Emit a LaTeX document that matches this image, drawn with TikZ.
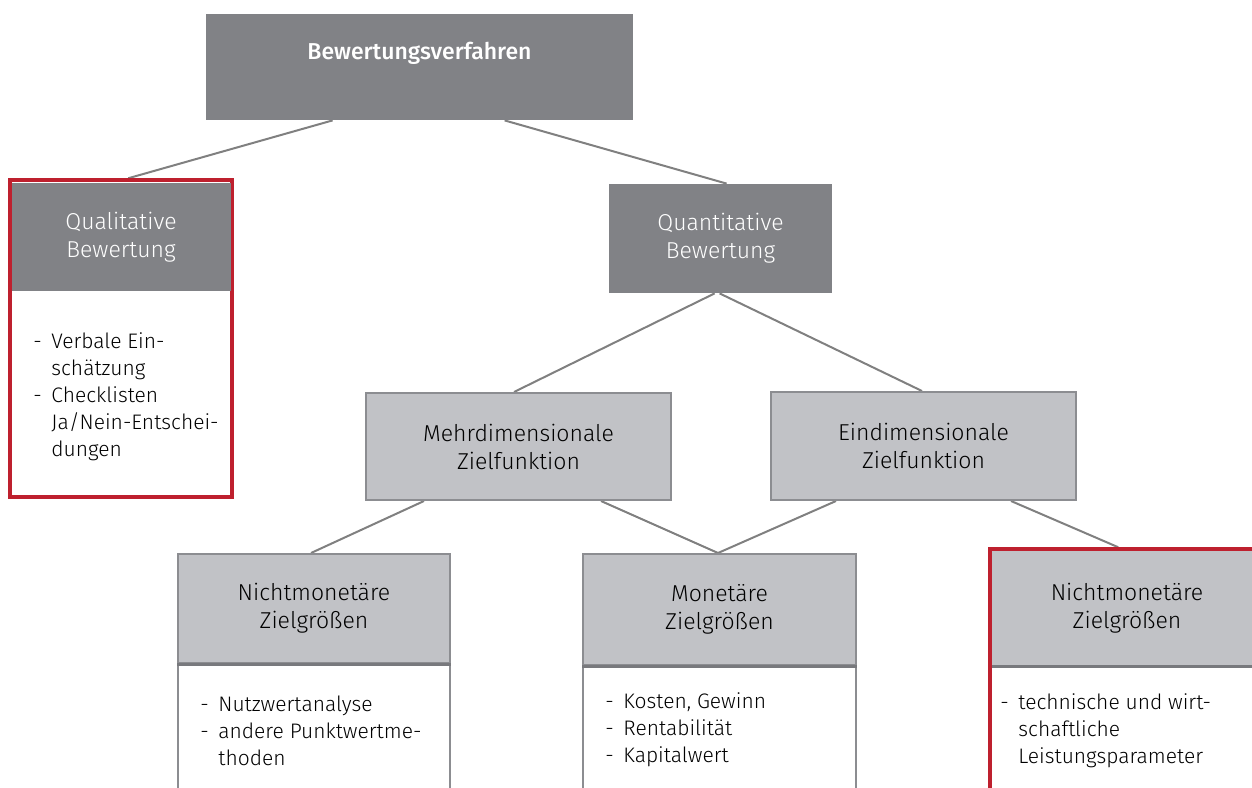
\documentclass[tikz,border=0pt]{standalone}
\usepackage{fontspec}
\setmainfont{Fira Sans Light}[BoldFont={Fira Sans Medium}]
\usetikzlibrary{calc,backgrounds}

\definecolor{boxdark}{RGB}{129,130,134}
\definecolor{boxlight}{RGB}{193,194,198}
\definecolor{rimgray}{RGB}{140,141,145}
\definecolor{rimdark}{RGB}{120,121,125}
\definecolor{linkgray}{RGB}{128,128,128}
\definecolor{rimred}{RGB}{190,32,46}

\tikzset{
  headfont/.style={font=\fontsize{11.5}{14}\selectfont},
  darkhead/.style={rectangle, fill=boxdark, draw=none, text=white, align=center,
    inner sep=0pt, headfont},
  lighthead/.style={rectangle, fill=boxlight, draw=rimgray, line width=1pt,
    text=black, align=center, inner sep=0pt, headfont},
  graybody/.style={rectangle, fill=white, draw=rimgray, line width=1pt, inner sep=0pt},
  redbody/.style={rectangle, fill=white, draw=rimred, line width=1.75pt, inner sep=0pt},
  redhead/.style={rectangle, fill=boxlight, draw=none, text=black, align=center,
    inner sep=0pt, headfont},
  itemtext/.style={anchor=base west, inner sep=0pt, align=left,
    font=\fontsize{10.5}{13.5}\selectfont},
  conn/.style={draw=linkgray, line width=1pt},
  headrule/.style={draw=rimdark, line width=1.5pt},
}

% list dash and continuation indent
\newcommand{\itm}{\makebox[9pt][l]{-}}
\newcommand{\cnt}{\hspace*{9pt}}

\begin{document}
\begin{tikzpicture}[x=0.5pt,y=-0.5pt]
\useasboundingbox (0,0) rectangle (1252,787);

% top level
\node[darkhead, minimum width=213.5pt, minimum height=53pt] (top) at (419.5,67) {};
\node[text=white, inner sep=0pt, font=\bfseries\fontsize{11.5}{14}\selectfont]
  (toplabel) at (419.5,53) {Bewertungsverfahren};

% qualitative branch
\node[redbody, minimum width=111pt, minimum height=158.5pt] (qual) at (121,338.5) {};
\node[darkhead, minimum width=109.5pt, minimum height=54.2pt] (qualhead) at (121,237)
  {Qualitative\\Bewertung};
\node[itemtext] (qualitems) at (33,348) {%
  \begin{tabular}[t]{@{}l@{}}
  \itm Verbale Ein-\\
  \cnt schätzung\\
  \itm Checklisten\\
  \cnt Ja/Nein-Entschei-\\
  \cnt dungen
  \end{tabular}};

% quantitative branch
\node[darkhead, minimum width=111.5pt, minimum height=54.5pt] (quant) at (720.5,238.5)
  {Quantitative\\Bewertung};

\node[lighthead, minimum width=152.5pt, minimum height=53.5pt] (mehr) at (518.5,446.5)
  {Mehrdimensionale\\Zielfunktion};
\node[lighthead, minimum width=152.5pt, minimum height=54pt] (eind) at (923.5,446)
  {Eindimensionale\\Zielfunktion};

% bottom row
\node[graybody, minimum width=136pt, minimum height=173pt] (nichtAbody) at (314,727) {};
\node[lighthead, minimum width=136pt, minimum height=54.5pt] (nichtA) at (314,608.5)
  {Nichtmonetäre\\Zielgrößen};
\draw[headrule] (nichtA.south west) -- (nichtA.south east);
\node[itemtext] (nichtAitems) at (200,711) {%
  \begin{tabular}[t]{@{}l@{}}
  \itm Nutzwertanalyse\\
  \itm andere Punktwertme-\\
  \cnt thoden
  \end{tabular}};

\node[graybody, minimum width=136.5pt, minimum height=173pt] (monetbody) at (719.5,727) {};
\node[lighthead, minimum width=136.5pt, minimum height=55.5pt] (monet) at (719.5,609.5)
  {Monetäre\\Zielgrößen};
\draw[headrule] (monet.south west) -- (monet.south east);
\node[itemtext] (monetitems) at (605,708) {%
  \begin{tabular}[t]{@{}l@{}}
  \itm Kosten, Gewinn\\
  \itm Rentabilität\\
  \itm Kapitalwert
  \end{tabular}};

\node[redbody, minimum width=137pt, minimum height=176pt] (nichtBbody) at (1127,725) {};
\node[redhead, minimum width=135pt, minimum height=57.5pt] (nichtB) at (1127,608.5)
  {Nichtmonetäre\\Zielgrößen};
\draw[headrule] (nichtB.south west) -- (nichtB.south east);
\node[itemtext] (nichtBitems) at (1000,709) {%
  \begin{tabular}[t]{@{}l@{}}
  \itm technische und wirt-\\
  \cnt schaftliche\\
  \cnt Leistungsparameter
  \end{tabular}};

% connectors
\begin{pgfonlayer}{background}
\draw[conn] ($(top.south west)+(127,0)$) -- ($(qual.north west)+(120,0)$);
\draw[conn] ($(top.south west)+(299,0)$) -- ($(quant.north west)+(118,0)$);
\draw[conn] ($(quant.south west)+(106,0)$) -- ($(mehr.north west)+(149,0)$);
\draw[conn] ($(quant.south west)+(111,0)$) -- ($(eind.north west)+(152,0)$);
\draw[conn] ($(mehr.south west)+(59,0)$) -- ($(nichtA.north west)+(134,0)$);
\draw[conn] ($(mehr.south west)+(236,0)$) -- ($(monet.north west)+(136,0)$);
\draw[conn] ($(eind.south west)+(66,0)$) -- ($(monet.north west)+(136,0)$);
\draw[conn] ($(eind.south west)+(241,0)$) -- ($(nichtBbody.north west)+(130,0)$);
\end{pgfonlayer}
\end{tikzpicture}
\end{document}
